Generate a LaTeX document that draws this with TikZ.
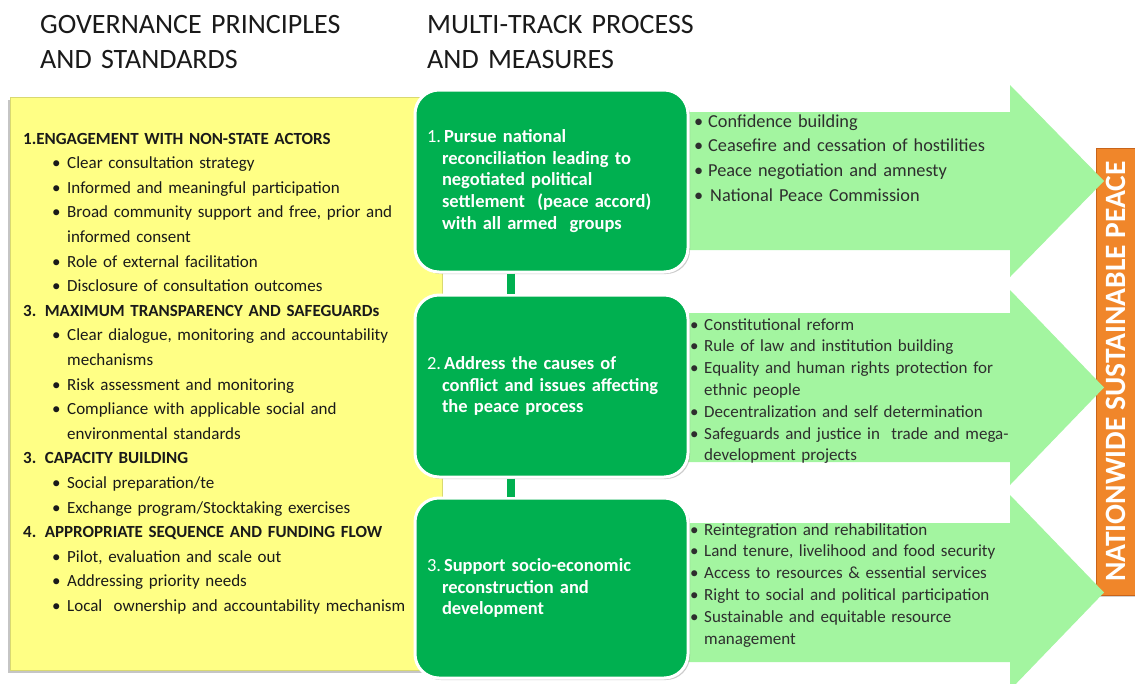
\documentclass[tikz,border=0pt]{standalone}
\usepackage{fontspec}
\setmainfont{Carlito}
\usetikzlibrary{shadows}
\definecolor{yel}{HTML}{FFFF85}
\definecolor{dgreen}{HTML}{00B050}
\definecolor{lgreen}{HTML}{A3F5A0}
\definecolor{orng}{HTML}{F0862A}
\definecolor{orngd}{HTML}{C8641A}
\definecolor{txt}{HTML}{1A1A1A}
\definecolor{txtb}{HTML}{2E2E2E}
\newcommand\ybul{\hspace*{29pt}\makebox[15pt][l]{\textbullet}}
\newcommand\ycont{\hspace*{44pt}}
\newcommand\abul{\makebox[14pt][l]{\textbullet}}
\newcommand\acont{\hspace*{14pt}}
\newcommand\gcont{\hspace*{15pt}}
\tikzset{
 hdr/.style={font=\fontsize{28}{35}\selectfont, text=txt, align=left, text width=420pt, inner sep=0pt, anchor=base west},
 ybox/.style={fill=yel, draw=yel!85!black, line width=0.4pt, minimum width=432pt, minimum height=573pt, inner sep=0pt,
   drop shadow={shadow xshift=-2pt, shadow yshift=-3pt, opacity=0.45}},
 ytext/.style={font=\fontsize{17}{24.6}\selectfont, text=txt, align=left, text width=430pt, inner sep=0pt, anchor=base west},
 gbox/.style={rectangle, rounded corners=24pt, fill=dgreen, draw=white, line width=3pt, minimum width=273pt,
   text width=249pt, inner xsep=12pt, inner ysep=0pt, align=left, text=white,
   font=\fontsize{18.5}{21.8}\selectfont\bfseries,
   drop shadow={shadow xshift=2pt, shadow yshift=-2pt, opacity=0.4}},
 arrowshape/.style={fill=lgreen},
 atext/.style={font=\fontsize{18.3}{24.8}\selectfont, text=txtb, align=left, text width=360pt, inner sep=0pt, anchor=base west},
 atextb/.style={atext, font=\fontsize{17}{21.8}\selectfont},
 obox/.style={rectangle, fill=orng, draw=orngd, line width=1pt, minimum width=447pt, minimum height=40pt, inner sep=0pt,
   text=white, font=\fontsize{29.5}{30}\selectfont\bfseries, drop shadow={shadow xshift=1pt, shadow yshift=-2pt, opacity=0.35}},
 conn/.style={draw=dgreen, line width=8pt},
}
\begin{document}
\begin{tikzpicture}[x=1pt,y=-1pt]
\useasboundingbox[fill=white] (0,0) rectangle (1135,683);

% headers
\node[hdr] (h1) at (40,33) {GOVERNANCE PRINCIPLES\\AND STANDARDS};
\node[hdr] (h2) at (427,33) {MULTI-TRACK PROCESS\\AND MEASURES};

% yellow panel
\node[ybox] (yb) at (226,383.5) {};
\node[ytext] (yt) at (23,144) {%
\textbf{1.ENGAGEMENT WITH NON-STATE ACTORS}\\
\ybul Clear consultation strategy\\
\ybul Informed and meaningful participation\\
\ybul Broad community support and free, prior and\\
\ycont informed consent\\
\ybul Role of external facilitation\\
\ybul Disclosure of consultation outcomes\\
\textbf{3. MAXIMUM TRANSPARENCY AND SAFEGUARDs}\\
\ybul Clear dialogue, monitoring and accountability\\
\ycont mechanisms\\
\ybul Risk assessment and monitoring\\
\ybul Compliance with applicable social and\\
\ycont environmental standards\\
\textbf{3. CAPACITY BUILDING}\\
\ybul Social preparation/te\\
\ybul Exchange program/Stocktaking exercises\\
\textbf{4. APPROPRIATE SEQUENCE AND FUNDING FLOW}\\
\ybul Pilot, evaluation and scale out\\
\ybul Addressing priority needs\\
\ybul Local\ \ ownership and accountability mechanism};

% orange result box
\node[obox, rotate=90] (peace) at (1116,371.5) {NATIONWIDE SUSTAINABLE PEACE};

% arrows
\fill[arrowshape] (660,112) -- (1010,112) -- (1010,85) -- (1104,181) -- (1010,277) -- (1010,250) -- (660,250) -- cycle;
\fill[arrowshape] (660,313) -- (1010,313) -- (1010,290) -- (1104,387.5) -- (1010,485) -- (1010,462) -- (660,462) -- cycle;
\fill[arrowshape] (660,523) -- (1010,523) -- (1010,495) -- (1104,592.5) -- (1010,690) -- (1010,662) -- (660,662) -- cycle;

% arrow texts
\node[atext] (a1) at (694,127) {%
\abul Confidence building\\
\abul Ceasefire and cessation of hostilities\\
\abul Peace negotiation and amnesty\\
\abul\hspace{2pt}National Peace Commission};
\node[atextb] (a2) at (690,330) {%
\abul Constitutional reform\\
\abul Rule of law and institution building\\
\abul Equality and human rights protection for\\
\acont ethnic people\\
\abul Decentralization and self determination\\
\abul Safeguards and justice in\ \ trade and mega-\\
\acont development projects};
\node[atextb] (a3) at (690,535) {%
\abul Reintegration and rehabilitation\\
\abul Land tenure, livelihood and food security\\
\abul Access to resources \& essential services\\
\abul Right to social and political participation\\
\abul Sustainable and equitable resource\\
\acont management};

% green process boxes
\node[gbox, minimum height=182pt] (g1) at (551.5,181) {%
{\mdseries 1.}\hspace{3pt}Pursue national\\
\gcont reconciliation leading to\\
\gcont negotiated political\\
\gcont settlement\ \ (peace accord)\\
\gcont with all armed\ \ groups};
\node[gbox, minimum height=182pt] (g2) at (551.5,386) {%
{\mdseries 2.}\hspace{3pt}Address the causes of\\
\gcont conflict and issues affecting\\
\gcont the peace process};
\node[gbox, minimum height=180pt] (g3) at (551.5,588) {%
{\mdseries 3.}\hspace{3pt}Support socio-economic\\
\gcont reconstruction and\\
\gcont development};

% connectors
\draw[conn] ([xshift=-41pt]g1.south) -- ([xshift=-41pt]g2.north);
\draw[conn] ([xshift=-41pt]g2.south) -- ([xshift=-41pt]g3.north);
\end{tikzpicture}
\end{document}
